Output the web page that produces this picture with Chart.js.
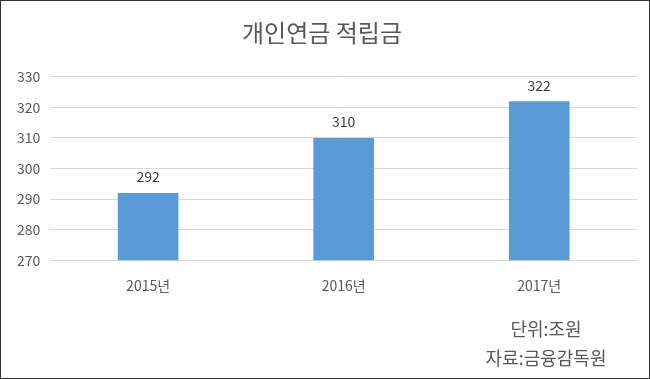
<!DOCTYPE html>
<html>
<head>
<meta charset="utf-8">
<script src="https://cdn.jsdelivr.net/npm/chart.js@4/dist/chart.umd.min.js"></script>
<style>
  html, body { margin: 0; padding: 0; background: #fff; }
  #frame { position: relative; width: 650px; height: 379px; box-sizing: border-box; border: 1px solid #333; background: #fff; overflow: hidden; }
  #wrap { position: absolute; left: 0; top: 0; width: 648px; height: 377px; }
  .note { position: absolute; left: 445px; width: 200px; text-align: center; font-family: "Noto Sans CJK KR", "Noto Sans", sans-serif; font-size: 18px; line-height: 20px; color: #595959; white-space: nowrap; }
</style>
</head>
<body>
<div id="frame">
  <div id="wrap"><canvas id="c"></canvas></div>
  <div class="note" id="n1" style="top:317px;">단위:조원</div>
  <div class="note" id="n2" style="top:346px;">자료:금융감독원</div>
</div>
<script>
const titleText = "개인연금 적립금";
const categories = ["2015년", "2016년", "2017년"];
const values = [292, 310, 322];
const yMin = 270, yMax = 330, yStep = 10;

const fontFamily = '"Noto Sans CJK KR", "Noto Sans", sans-serif';

const valueLabels = {
  id: 'valueLabels',
  afterDatasetsDraw(chart) {
    const ctx = chart.ctx;
    const meta = chart.getDatasetMeta(0);
    ctx.save();
    ctx.font = '14px ' + fontFamily;
    ctx.fillStyle = '#404040';
    ctx.textAlign = 'center';
    ctx.textBaseline = 'bottom';
    meta.data.forEach((bar, i) => {
      ctx.fillText(String(chart.data.datasets[0].data[i]), bar.x, bar.y - 9);
    });
    ctx.restore();
  }
};

new Chart(document.getElementById('c'), {
  type: 'bar',
  data: {
    labels: categories,
    datasets: [{
      data: values,
      backgroundColor: '#5b9bd5',
      borderWidth: 0,
      categoryPercentage: 1.0,
      barPercentage: 0.31
    }]
  },
  options: {
    responsive: true,
    maintainAspectRatio: false,
    animation: false,
    layout: { padding: { left: 6, right: 12, top: 0, bottom: 75 } },
    plugins: {
      legend: { display: false },
      tooltip: { enabled: false },
      title: {
        display: true,
        text: titleText,
        color: '#595959',
        font: { family: fontFamily, size: 24, weight: 'normal' },
        padding: { top: 17, bottom: 30 }
      }
    },
    scales: {
      x: {
        grid: { display: false },
        border: { display: true, color: '#d9d9d9' },
        ticks: { color: '#595959', font: { family: fontFamily, size: 14 }, padding: 9 }
      },
      y: {
        min: yMin, max: yMax,
        grid: { color: '#d9d9d9', drawTicks: false },
        border: { display: false },
        ticks: { stepSize: yStep, color: '#595959', font: { family: fontFamily, size: 14 }, padding: 10 }
      }
    }
  },
  plugins: [valueLabels]
});
</script>
</body>
</html>
